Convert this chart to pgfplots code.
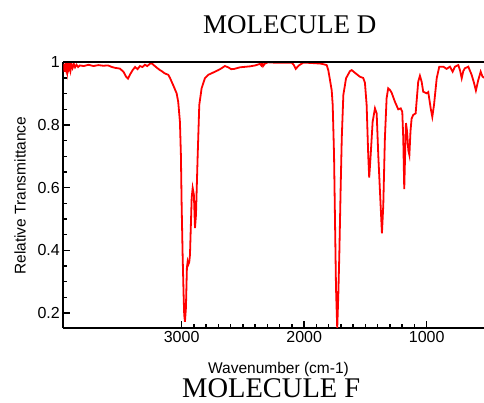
\documentclass[border=0pt]{standalone}
\usepackage{fontspec}
\setmainfont{Liberation Sans}
\newfontfamily\timesfont{Liberation Serif}
\usepackage{pgfplots}
\pgfplotsset{compat=1.18}

\begin{document}
\begin{tikzpicture}
\useasboundingbox (-63.3pt,-75pt) rectangle (420.7pt,328pt);
\begin{axis}[
  at={(0pt,0pt)}, anchor=south west,
  scale only axis, width=420.7pt, height=265.7pt,
  x dir=reverse,
  xmin=532, xmax=3966, ymin=0.152, ymax=1,
  axis x line*=bottom, axis y line*=left,
  axis line style={-, line width=1.7pt, black},
  xtick={1000,2000,3000}, minor x tick num=9,
  ytick={0.2,0.4,0.6,0.8,1}, minor y tick num=3,
  tick align=inside,
  major tick length=6.5pt, minor tick length=4pt,
  tick style={black, line width=1.4pt},
  tick label style={font=\fontsize{16}{18}\selectfont},
  /pgf/number format/assume math mode=true,
  /pgf/number format/1000 sep={},
]
% IR spectrum
\addplot[red, line width=1.8pt] coordinates {
(3966,0.975)(3960,0.995)(3955,0.970)(3950,0.990)(3944,0.978)(3938,1.000)
(3932,0.972)(3926,0.992)(3920,0.980)(3913,0.998)(3906,0.976)(3899,0.993)
(3890,0.982)(3880,0.995)(3870,0.984)(3858,0.992)(3845,0.985)(3830,0.990)
(3800,0.988)(3760,0.992)(3720,0.988)(3680,0.991)(3640,0.989)(3600,0.990)
(3570,0.985)(3540,0.982)(3505,0.980)(3475,0.970)(3455,0.955)(3438,0.948)
(3420,0.962)(3400,0.975)(3380,0.985)(3360,0.978)(3340,0.988)(3320,0.985)
(3300,0.992)(3280,0.988)(3260,0.995)(3245,0.997)(3225,0.990)(3200,0.982)
(3177,0.975)(3163,0.972)(3140,0.965)(3109,0.960)(3095,0.950)(3069,0.927)
(3041,0.901)(3028,0.874)(3014,0.810)(3006,0.704)(3000,0.545)(2992,0.386)
(2984,0.258)(2979,0.194)(2973,0.172)(2965,0.216)(2957,0.344)(2951,0.364)
(2945,0.355)(2938,0.362)(2932,0.385)(2918,0.567)(2910,0.599)(2900,0.577)
(2891,0.471)(2883,0.513)(2869,0.704)(2856,0.864)(2837,0.917)(2810,0.949)
(2783,0.960)(2755,0.965)(2728,0.970)(2701,0.975)(2674,0.981)(2647,0.988)
(2620,0.984)(2595,0.978)(2570,0.979)(2524,0.984)(2443,0.987)(2400,0.990)
(2360,0.995)(2350,0.990)(2342,1.000)(2335,0.988)(2320,0.996)(2293,1.000)
(2252,0.999)(2198,0.999)(2102,0.999)(2085,0.992)(2069,0.979)(2043,0.990)
(2007,0.999)(1950,0.998)(1870,0.996)(1844,0.994)(1816,0.991)(1803,0.975)
(1789,0.943)(1775,0.910)(1767,0.864)(1756,0.704)(1748,0.491)(1740,0.280)
(1730,0.150)(1721,0.260)(1713,0.385)(1702,0.599)(1693,0.758)(1680,0.896)
(1658,0.949)(1626,0.972)(1612,0.975)(1590,0.968)(1571,0.962)(1545,0.954)
(1518,0.950)(1504,0.935)(1490,0.864)(1477,0.704)(1469,0.632)(1457,0.704)
(1441,0.810)(1422,0.853)(1408,0.837)(1395,0.704)(1376,0.545)(1365,0.454)
(1354,0.545)(1341,0.757)(1327,0.885)(1314,0.917)(1300,0.912)(1286,0.903)
(1259,0.874)(1232,0.850)(1212,0.853)(1199,0.842)(1191,0.757)(1183,0.595)
(1175,0.720)(1169,0.806)(1160,0.780)(1150,0.720)(1141,0.704)(1132,0.780)
(1123,0.820)(1110,0.832)(1090,0.837)(1069,0.938)(1055,0.957)(1041,0.938)
(1028,0.906)(1000,0.901)(987,0.905)(967,0.853)(954,0.826)(940,0.864)
(918,0.949)(897,0.986)(864,0.986)(837,0.979)(810,0.986)(788,0.970)
(769,0.986)(742,0.991)(728,0.975)(714,0.949)(701,0.972)(688,0.981)
(660,0.986)(633,0.960)(614,0.935)(598,0.910)(579,0.943)(559,0.970)
(545,0.955)(532,0.950)
};
\end{axis}
\draw[line width=1.7pt] (0pt,265.7pt) -- (420.7pt,265.7pt);
\node[font=\timesfont\fontsize{27}{30}\selectfont] at (226.4pt,303.2pt) {MOLECULE D};
\node[font=\timesfont\fontsize{28.5}{32}\selectfont] at (208pt,-60pt) {MOLECULE F};
\node[font=\fontsize{15.5}{18}\selectfont] at (215.2pt,-41pt) {Wavenumber (cm-1)};
\node[font=\fontsize{15.5}{18}\selectfont, rotate=90] at (-43.3pt,132.3pt) {Relative Transmittance};
\end{tikzpicture}
\end{document}
